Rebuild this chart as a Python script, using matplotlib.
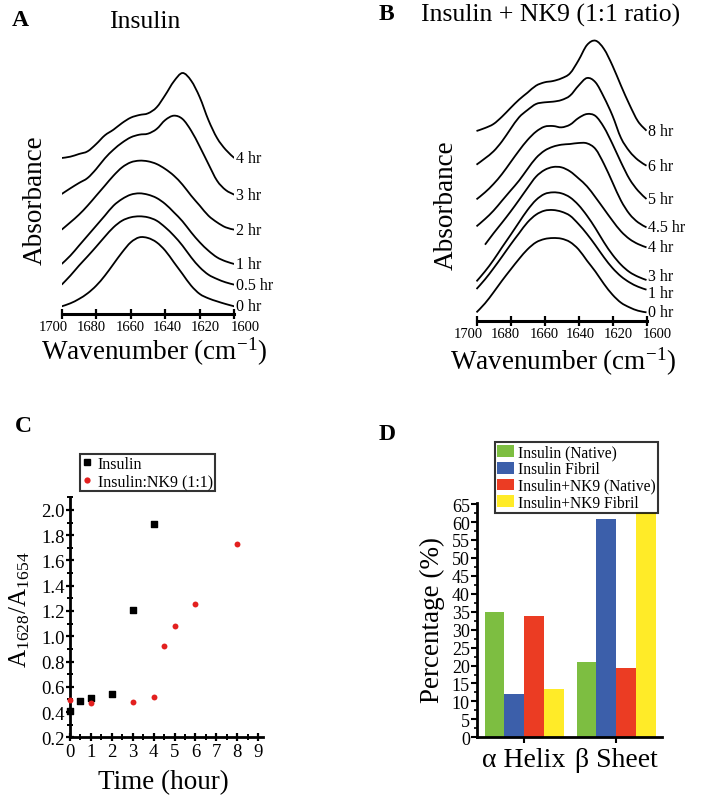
import numpy as np
import matplotlib
matplotlib.use('Agg')
import matplotlib.pyplot as plt
from matplotlib.lines import Line2D
from matplotlib.path import Path
from matplotlib.patches import PathPatch
from matplotlib.ticker import MultipleLocator, FormatStrFormatter
from matplotlib.transforms import ScaledTranslation

plt.rcParams['font.family'] = ['Liberation Serif', 'DejaVu Serif']
plt.rcParams['mathtext.fontset'] = 'stix'

# ---------------- data ----------------
wavenumber = [1700, 1695, 1690, 1685, 1680, 1675, 1670, 1665, 1660, 1655, 1650,
              1645, 1640, 1635, 1630, 1625, 1620, 1615, 1610, 1605, 1600]
wn_ticks = [1700, 1680, 1660, 1640, 1620, 1600]

# Panel A: insulin spectra (stacked absorbance, arbitrary units)
ins_0hr  = [23, 32, 45, 62, 85, 115, 150, 185, 215, 230, 228, 215, 190, 155, 120, 85, 60, 47, 38, 30, 23]
ins_05hr = [88, 115, 145, 173, 202, 232, 260, 280, 290, 293, 290, 280, 260, 235, 205, 170, 140, 118, 105, 95, 88]
ins_1hr  = [150, 175, 205, 235, 265, 295, 325, 345, 358, 362, 358, 348, 330, 305, 278, 245, 215, 190, 170, 158, 150]
ins_2hr  = [253, 275, 298, 325, 355, 385, 415, 440, 455, 460, 458, 450, 435, 415, 388, 355, 325, 295, 275, 260, 253]
ins_3hr  = [360, 377, 393, 408, 435, 467, 493, 514, 530, 538, 541, 555, 582, 595, 585, 550, 502, 450, 400, 372, 358]
ins_4hr  = [468, 472, 480, 488, 510, 536, 553, 573, 589, 597, 602, 620, 657, 698, 723, 700, 650, 582, 528, 493, 468]
ins_labels = ['0 hr', '0.5 hr', '1 hr', '2 hr', '3 hr', '4 hr']

# Panel B: insulin + NK9 spectra (stacked absorbance, arbitrary units)
nk_0hr  = [25, 52, 85, 120, 153, 185, 214, 235, 245, 248, 246, 236, 214, 180, 147, 110, 78, 54, 40, 30, 25]
nk_1hr  = [95, 124, 157, 192, 228, 262, 295, 318, 330, 332, 327, 315, 290, 260, 226, 190, 158, 133, 115, 102, 93]
nk_3hr  = [118, 148, 182, 220, 257, 295, 332, 362, 380, 385, 382, 370, 347, 315, 277, 235, 198, 168, 146, 132, 122]
nk_4hr  = [np.nan, 228, 262, 294, 327, 362, 398, 432, 452, 461, 460, 448, 427, 403, 370, 335, 300, 268, 245, 230, 220]
nk_45hr = [283, 305, 330, 360, 390, 420, 455, 488, 510, 522, 528, 530, 533, 532, 515, 470, 415, 360, 320, 295, 280]
nk_5hr  = [364, 385, 410, 440, 475, 510, 542, 567, 582, 584, 580, 588, 608, 620, 614, 580, 530, 475, 425, 390, 365]
nk_6hr  = [468, 487, 508, 538, 575, 610, 632, 650, 655, 657, 662, 675, 705, 728, 715, 670, 615, 548, 508, 482, 465]
nk_8hr  = [569, 578, 590, 612, 638, 663, 684, 705, 715, 719, 727, 742, 781, 827, 840, 815, 765, 705, 648, 598, 570]
nk_labels = ['0 hr', '1 hr', '3 hr', '4 hr', '4.5 hr', '5 hr', '6 hr', '8 hr']

# Panel C: A1628/A1654 ratio vs time
ins_time  = [0, 0.5, 1, 2, 3, 4]
ins_ratio = [0.41, 0.49, 0.515, 0.54, 1.21, 1.89]
nk_time   = [0, 1, 3, 4, 4.5, 5, 6, 8]
nk_ratio  = [0.495, 0.475, 0.48, 0.52, 0.925, 1.08, 1.255, 1.73]

# Panel D: secondary structure percentage
structures = ['\u03b1 Helix', '\u03b2 Sheet']
ins_native = [35.0, 21.1]
ins_fibril = [12.1, 60.8]
nk_native  = [33.9, 19.2]
nk_fibril  = [13.5, 62.9]
series_names = ['Insulin (Native)', 'Insulin Fibril', 'Insulin+NK9 (Native)', 'Insulin+NK9 Fibril']

# ---------------- figure ----------------
W, H = 706, 803
fig = plt.figure(figsize=(W / 100, H / 100), dpi=100)


def px_axes(l, t, r, b):
    return fig.add_axes([l / W, 1 - b / H, (r - l) / W, (b - t) / H])


def ftext(x, y, s, **kw):
    return fig.text(x / W, 1 - y / H, s, **kw)


def smooth_line(ax, xs, ys, **kw):
    """Draw a smooth (Catmull-Rom / cubic Bezier) line through the data points."""
    pts = np.array([(x, y) for x, y in zip(xs, ys) if not np.isnan(y)], dtype=float)
    verts = [pts[0]]
    codes = [Path.MOVETO]
    n = len(pts)
    for i in range(n - 1):
        p0 = pts[i - 1] if i > 0 else pts[i]
        p1 = pts[i]
        p2 = pts[i + 1]
        p3 = pts[i + 2] if i + 2 < n else pts[i + 1]
        c1 = p1 + (p2 - p0) / 6.0
        c2 = p2 - (p3 - p1) / 6.0
        verts += [c1, c2, p2]
        codes += [Path.CURVE4] * 3
    ax.add_patch(PathPatch(Path(verts, codes), fill=False, **kw))


label_shift_px = [-8, -5, 0, 2, 6, 11]


def spectra_panel(ax, series, labels, nudges, ymax):
    for vals, lab in zip(series, labels):
        smooth_line(ax, wavenumber, vals, edgecolor='black', lw=1.3)
        last = vals[-1] + nudges.get(lab, 0)
        ax.text(1599.2, last, lab, fontsize=11.5, ha='left', va='center')
    ax.set_xlim(1700, 1600)
    ax.set_ylim(0, ymax)
    for s in ['left', 'right', 'top']:
        ax.spines[s].set_visible(False)
    ax.spines['bottom'].set_linewidth(2.2)
    ax.set_yticks([])
    ax.set_xticks(wn_ticks)
    ax.set_xticklabels([str(t) for t in wn_ticks])
    ax.tick_params(axis='x', direction='inout', length=7, width=1.6, labelsize=10.5, pad=1)
    for lbl, dx in zip(ax.get_xticklabels(), label_shift_px):
        lbl.set_transform(lbl.get_transform() + ScaledTranslation(dx / 100, 0, fig.dpi_scale_trans))
    ax.patch.set_alpha(0)


# Panel A
axA = px_axes(61.7, 65, 234.3, 315)
spectra_panel(axA, [ins_0hr, ins_05hr, ins_1hr, ins_2hr, ins_3hr, ins_4hr], ins_labels, {}, 750)
ftext(20, 20, 'A', fontsize=17, fontweight='bold', ha='center', va='center')
ftext(145, 22, 'Insulin', fontsize=18.5, ha='center', va='center')
ftext(35, 200, 'Absorbance', fontsize=19.5, rotation=90, ha='center', va='center')
ftext(154, 352, 'Wavenumber (cm$^{\\mathregular{-1}}$)', fontsize=19.5, ha='center', va='center')

# Panel B
axB = px_axes(476.5, 35, 646.5, 321.7)
spectra_panel(axB, [nk_0hr, nk_1hr, nk_3hr, nk_4hr, nk_45hr, nk_5hr, nk_6hr, nk_8hr], nk_labels,
              {'3 hr': 11, '1 hr': -9}, 860)
ftext(386, 15, 'B', fontsize=17, fontweight='bold', ha='center', va='center')
ftext(421, 15, 'Insulin + NK9 (1:1 ratio)', fontsize=18.5, ha='left', va='center')
ftext(446, 205, 'Absorbance', fontsize=19.5, rotation=90, ha='center', va='center')
ftext(563, 362, 'Wavenumber (cm$^{\\mathregular{-1}}$)', fontsize=19.5, ha='center', va='center')

# Panel C
axC = px_axes(70, 498.3, 263.4, 738.3)
axC.scatter(ins_time, ins_ratio, marker='s', s=15, color='black', zorder=3, clip_on=False)
axC.scatter(nk_time, nk_ratio, marker='o', s=18, color='#e3201f', zorder=3, clip_on=False, linewidths=0)
axC.set_xlim(0, 9.25)
axC.set_ylim(0.2, 2.1)
for s in ['right', 'top']:
    axC.spines[s].set_visible(False)
for s in ['left', 'bottom']:
    axC.spines[s].set_linewidth(2)
axC.set_xticks(range(0, 10))
axC.xaxis.set_minor_locator(MultipleLocator(0.5))
axC.yaxis.set_major_locator(MultipleLocator(0.2))
axC.yaxis.set_minor_locator(MultipleLocator(0.1))
axC.tick_params(which='major', direction='inout', length=6, width=1.6, labelsize=13.5, pad=1)
axC.tick_params(which='minor', direction='inout', length=4, width=1.4)
axC.yaxis.set_major_formatter(FormatStrFormatter('%.1f'))
legC = axC.legend(handles=[Line2D([], [], marker='s', color='black', ls='none', markersize=4),
                           Line2D([], [], marker='o', color='#e3201f', ls='none', markersize=4.5,
                                  markeredgewidth=0)],
                  labels=['Insulin', 'Insulin:NK9 (1:1)'], loc='upper left',
                  bbox_to_anchor=(80 / W, 1 - 455 / H), bbox_transform=fig.transFigure,
                  fontsize=11.5, frameon=True, fancybox=False, handlelength=0.6, handletextpad=0.4,
                  borderpad=0.12, labelspacing=0.1, borderaxespad=0)
legC.get_frame().set_edgecolor('black')
legC.get_frame().set_linewidth(1.5)
ftext(23, 427, 'C', fontsize=17, fontweight='bold', ha='center', va='center')
ftext(163, 783, 'Time (hour)', fontsize=19.5, ha='center', va='center')
ftext(20, 610, 'A$_{\\mathregular{1628}}$/A$_{\\mathregular{1654}}$', fontsize=18, rotation=90,
      ha='center', va='center')

# Panel D
axD = px_axes(476.7, 504, 661.7, 738.3)
colors = ['#7dbe41', '#3c5faa', '#eb3c23', '#ffeb28']
x = np.arange(len(structures))
w = 0.214
for i, (vals, col, name) in enumerate(zip([ins_native, ins_fibril, nk_native, nk_fibril], colors, series_names)):
    axD.bar(x + (i - 1.5) * w, vals, width=w, color=col, edgecolor='none', label=name)
axD.set_xlim(-0.516, 1.495)
axD.set_ylim(0, 65.3)
for s in ['right', 'top']:
    axD.spines[s].set_visible(False)
for s in ['left', 'bottom']:
    axD.spines[s].set_linewidth(2)
axD.yaxis.set_major_locator(MultipleLocator(5))
axD.yaxis.set_minor_locator(MultipleLocator(2.5))
axD.set_xticks(x)
axD.set_xticklabels(structures)
axD.tick_params(axis='y', which='major', direction='out', length=4, width=1.5, labelsize=13, pad=1)
axD.tick_params(axis='y', which='minor', direction='out', length=2.5, width=1.2)
axD.tick_params(axis='x', direction='out', length=4, width=1.5, labelsize=20, pad=3)
legD = axD.legend(loc='upper left', bbox_to_anchor=(495 / W, 1 - 443 / H), bbox_transform=fig.transFigure,
                  fontsize=11.2, frameon=True, fancybox=False, handlelength=1.1, handleheight=0.8,
                  handletextpad=0.2, borderpad=0.15, labelspacing=0.05, borderaxespad=0)
legD.get_frame().set_edgecolor('black')
legD.get_frame().set_linewidth(1.5)
ftext(387, 435, 'D', fontsize=17, fontweight='bold', ha='center', va='center')
ftext(432, 620, 'Percentage (%)', fontsize=19.5, rotation=90, ha='center', va='center')

fig.savefig('out.png', dpi=100)
